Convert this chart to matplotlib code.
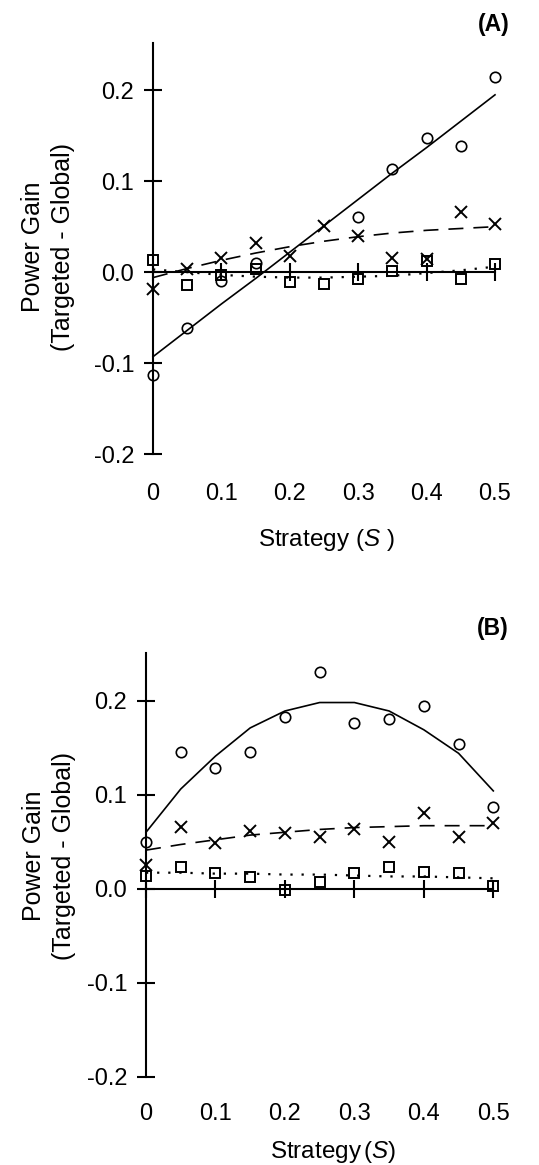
import numpy as np
import matplotlib.pyplot as plt

plt.rcParams['font.family'] = ['Liberation Sans', 'DejaVu Sans']
plt.rcParams['mathtext.fontset'] = 'custom'
plt.rcParams['mathtext.rm'] = 'Liberation Sans'
plt.rcParams['mathtext.it'] = 'Liberation Sans:italic'

# strategy values (x axis)
S = [0, 0.05, 0.1, 0.15, 0.2, 0.25, 0.3, 0.35, 0.4, 0.45, 0.5]

# panel A
a_circ = [-0.113, -0.061, -0.010, 0.010, np.nan, np.nan, 0.061, 0.113, 0.148, 0.139, 0.215]
a_circ_fit = [-0.093, -0.064, -0.035, -0.007, 0.022, 0.051, 0.080, 0.109, 0.137, 0.166, 0.195]
a_x = [-0.019, 0.003, 0.016, 0.032, 0.018, 0.051, 0.040, 0.016, 0.014, 0.066, 0.053]
a_x_fit = [-0.006, 0.004, 0.013, 0.021, 0.028, 0.034, 0.039, 0.043, 0.046, 0.048, 0.050]
a_sq = [0.013, -0.014, -0.003, 0.004, -0.011, -0.013, -0.008, 0.001, 0.012, -0.008, 0.009]
a_sq_fit = [0.003, 0.000, -0.003, -0.005, -0.006, -0.006, -0.005, -0.004, -0.001, 0.002, 0.006]

# panel B
b_circ = [0.050, 0.145, 0.128, 0.145, 0.183, 0.231, 0.176, 0.181, 0.194, 0.154, 0.087]
b_circ_fit = [0.060, 0.106, 0.141, 0.171, 0.189, 0.198, 0.198, 0.189, 0.169, 0.144, 0.104]
b_x = [0.025, 0.066, 0.049, 0.061, 0.059, 0.055, 0.064, 0.050, 0.080, 0.055, 0.070]
b_x_fit = [0.041, 0.047, 0.052, 0.057, 0.060, 0.063, 0.065, 0.066, 0.067, 0.067, 0.067]
b_sq = [0.014, 0.023, 0.017, 0.012, -0.001, 0.007, 0.017, 0.023, 0.018, 0.017, 0.003]
b_sq_fit = [0.017, 0.017, 0.016, 0.016, 0.015, 0.015, 0.014, 0.013, 0.013, 0.012, 0.011]

yticks = [-0.2, -0.1, 0.0, 0.1, 0.2]
ytick_labels = ['-0.2', '-0.1', '0.0', '0.1', '0.2']
xticks = [0, 0.1, 0.2, 0.3, 0.4, 0.5]
xtick_labels = ['0', '0.1', '0.2', '0.3', '0.4', '0.5']

W, H = 539, 1165
fig = plt.figure(figsize=(W / 100, H / 100), dpi=100)


def panel(rect, circ, circ_fit, xs, x_fit, sq, sq_fit, top, pad, letter, lpos, xlab, xlpos, ylpos):
    ax = fig.add_axes(rect)
    ax.plot(S, circ_fit, color='k', lw=1.2, clip_on=False)
    ax.plot(S, x_fit, color='k', lw=1.2, dashes=(9, 6), clip_on=False)
    ax.plot(S, sq_fit, color='k', lw=1.6, dashes=(1.0, 4.0), clip_on=False)
    ax.plot(S, circ, 'o', ms=7.5, mfc='none', mec='k', mew=1.2, clip_on=False)
    ax.plot(S, xs, 'x', ms=9, mec='k', mew=1.4, clip_on=False)
    ax.plot(S, sq, 's', ms=7, mfc='none', mec='k', mew=1.4, clip_on=False)

    ax.set_xlim(0, 0.5)
    ax.set_ylim(-0.2, top)
    for s in ['top', 'right']:
        ax.spines[s].set_visible(False)
    ax.spines['bottom'].set_position(('data', 0))
    ax.spines['left'].set_bounds(-0.2, top)
    ax.spines['left'].set_linewidth(1.5)
    ax.spines['bottom'].set_linewidth(1.5)
    ax.set_yticks(yticks)
    ax.set_yticklabels(ytick_labels)
    ax.set_xticks(xticks)
    ax.tick_params(axis='both', direction='inout', length=13, width=1.5, labelsize=17)
    ax.tick_params(axis='y', pad=7)
    ax.tick_params(axis='x', labelbottom=False)

    sec = ax.secondary_xaxis(0)
    sec.spines['bottom'].set_visible(False)
    sec.set_xticks(xticks)
    sec.set_xticklabels(xtick_labels)
    sec.tick_params(length=0, pad=pad, labelsize=17)

    fig.text(lpos[0] / W, 1 - lpos[1] / H, letter, fontsize=16.5, fontweight='bold',
             ha='center', va='center')
    fig.text(xlpos[0] / W, 1 - xlpos[1] / H, xlab, fontsize=17.5, ha='center', va='center')
    fig.text(ylpos[0] / W, 1 - ylpos[1] / H, 'Power Gain\n(Targeted - Global)', fontsize=18,
             rotation=90, ha='center', va='center', multialignment='center', linespacing=1.35)
    return ax


panel([153 / W, 1 - 454 / H, 342 / W, 411 / H], a_circ, a_circ_fit, a_x, a_x_fit, a_sq, a_sq_fit,
      0.252, 21, '(A)', (494, 25), r'Strategy ($\mathit{S}$ )', (326, 540), (48, 247))
panel([146 / W, 1 - 1076.7 / H, 347.3 / W, 424 / H], b_circ, b_circ_fit, b_x, b_x_fit, b_sq, b_sq_fit,
      0.251, 19, '(B)', (493, 628), r'Strategy$\,$($\mathit{S}$)', (333, 1152), (49, 856))

fig.savefig('out.png', dpi=100)
